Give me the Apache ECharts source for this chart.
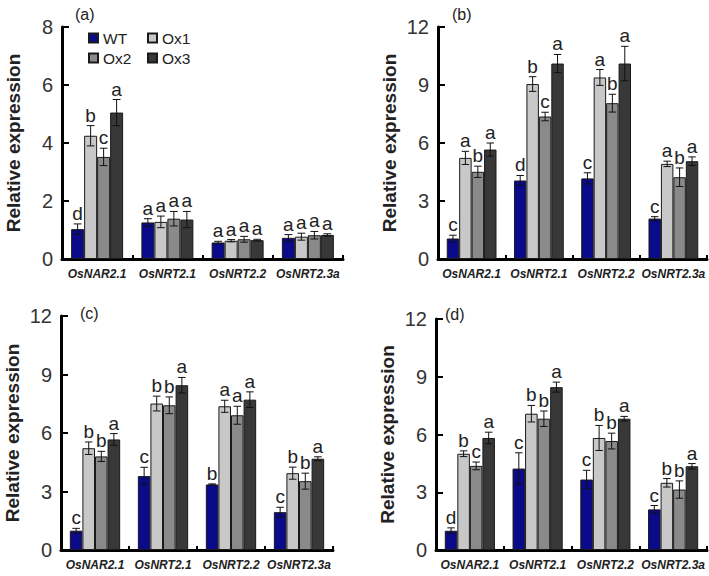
<!DOCTYPE html>
<html><head><meta charset="utf-8">
<script src="https://cdn.jsdelivr.net/npm/echarts@6/dist/echarts.min.js"></script>
<style>html,body{margin:0;padding:0;background:#fff}#c{width:709px;height:576px}</style>
</head><body><div id="c"></div>
<script>
const categories = ['OsNAR2.1', 'OsNRT2.1', 'OsNRT2.2', 'OsNRT2.3a'];
const seriesNames = ['WT', 'Ox1', 'Ox2', 'Ox3'];
const panelTags = ['(a)', '(b)', '(c)', '(d)'];
const yMax = [8, 12, 12, 12];
const yStep = [2, 3, 3, 3];

// means: rows = series (WT, Ox1, Ox2, Ox3), columns = categories
const meansA = [[1.03, 1.26, 0.57, 0.73], [4.25, 1.28, 0.63, 0.77], [3.52, 1.39, 0.68, 0.82], [5.05, 1.36, 0.65, 0.83]];
const errsA  = [[0.18, 0.13, 0.04, 0.11], [0.35, 0.2, 0.04, 0.12], [0.3, 0.25, 0.1, 0.13], [0.45, 0.28, 0.03, 0.04]];
const lettersA = [['d','a','a','a'], ['b','a','a','a'], ['c','a','a','a'], ['a','a','a','a']];

const meansB = [[1.06, 4.06, 4.17, 2.09], [5.23, 9.05, 9.39, 4.92], [4.51, 7.37, 8.06, 4.23], [5.66, 10.11, 10.11, 5.06]];
const errsB  = [[0.17, 0.26, 0.29, 0.1], [0.34, 0.38, 0.41, 0.14], [0.29, 0.22, 0.46, 0.48], [0.34, 0.47, 0.89, 0.22]];
const lettersB = [['c','d','c','c'], ['a','b','a','a'], ['b','c','b','b'], ['a','a','a','a']];

const meansC = [[0.99, 3.79, 3.36, 1.94], [5.22, 7.51, 7.37, 3.94], [4.8, 7.42, 6.91, 3.53], [5.67, 8.45, 7.71, 4.68]];
const errsC  = [[0.12, 0.45, 0.03, 0.25], [0.32, 0.38, 0.31, 0.31], [0.26, 0.43, 0.46, 0.41], [0.3, 0.4, 0.4, 0.1]];
const lettersC = [['c','c','b','c'], ['b','b','a','b'], ['b','b','a','b'], ['a','a','a','a']];

const meansD = [[1.0, 4.23, 3.66, 2.11], [5.0, 7.08, 5.82, 3.49], [4.37, 6.82, 5.66, 3.14], [5.82, 8.46, 6.82, 4.35]];
const errsD  = [[0.15, 0.82, 0.48, 0.2], [0.15, 0.43, 0.65, 0.22], [0.2, 0.4, 0.41, 0.45], [0.3, 0.26, 0.12, 0.14]];
const lettersD = [['d','c','c','c'], ['b','b','b','b'], ['c','b','b','b'], ['a','a','a','a']];

const panels = [
  {means: meansA, errs: errsA, letters: lettersA},
  {means: meansB, errs: errsB, letters: lettersB},
  {means: meansC, errs: errsC, letters: lettersC},
  {means: meansD, errs: errsD, letters: lettersD}
];

const FONT = "'Liberation Sans', Arial, sans-serif";
const colors = ['#0a0a8a', '#c8c8c8', '#8a8a8a', '#383838'];
const GAP = 0.26;
const grids = [
  {left: 62, top: 27, width: 281, height: 232},
  {left: 438, top: 27, width: 269, height: 232},
  {left: 61, top: 316, width: 272, height: 234},
  {left: 436, top: 319, width: 271, height: 231}
];
const tagPos = [{left: 75, top: 6}, {left: 452, top: 6}, {left: 80, top: 305}, {left: 445, top: 306}];

const option = {
  animation: false,
  backgroundColor: '#fff',
  title: panelTags.map((t, i) => ({text: t, left: tagPos[i].left, top: tagPos[i].top, padding: 0,
    textStyle: {fontFamily: FONT, fontSize: 16, fontWeight: 'normal', color: '#222'}})),
  legend: [
    {data: ['WT', 'Ox2'], left: 88, top: 30, orient: 'vertical'},
    {data: ['Ox1', 'Ox3'], left: 147, top: 30, orient: 'vertical'}
  ].map(l => Object.assign(l, {padding: 0, itemWidth: 9, itemHeight: 9, itemGap: 4, itemTextGap: 4, icon: 'rect',
    textStyle: {fontFamily: FONT, fontSize: 15.5, color: '#222', lineHeight: 15}})),
  grid: grids,
  xAxis: grids.map((g, i) => ({
    type: 'category', gridIndex: i, data: categories,
    axisLine: {lineStyle: {color: '#000', width: 3}},
    axisTick: {show: true, inside: true, length: 4, lineStyle: {color: '#000', width: 2}},
    axisLabel: {fontFamily: FONT, fontSize: 12, fontWeight: 'bold', fontStyle: 'italic', color: '#222', margin: 9, interval: 0}
  })),
  yAxis: grids.map((g, i) => ({
    type: 'value', gridIndex: i, min: 0, max: yMax[i], interval: yStep[i],
    name: 'Relative expression', nameLocation: 'middle', nameGap: 39,
    nameTextStyle: {fontFamily: FONT, fontSize: 19, fontWeight: 'bold', color: '#222'},
    axisLine: {show: true, lineStyle: {color: '#000', width: 3}},
    axisTick: {show: true, inside: true, length: 7, lineStyle: {color: '#000', width: 2}},
    splitLine: {show: false},
    axisLabel: {fontFamily: FONT, fontSize: 20, color: '#333', margin: 9}
  })),
  series: []
};

panels.forEach((p, pi) => {
  seriesNames.forEach((name, si) => {
    option.series.push({
      type: 'bar', name: name, xAxisIndex: pi, yAxisIndex: pi,
      data: p.means[si], barGap: '0%', barCategoryGap: (GAP * 100) + '%',
      itemStyle: {color: colors[si], borderColor: '#1a1a1a', borderWidth: 1}
    });
  });
  const flat = [], lab = [];
  seriesNames.forEach((name, si) => {
    categories.forEach((c, ci) => {
      flat.push([ci, si, p.means[si][ci], p.errs[si][ci]]);
      lab.push(p.letters[si][ci]);
    });
  });
  option.series.push({
    type: 'custom', xAxisIndex: pi, yAxisIndex: pi, z: 5, silent: true,
    encode: {x: 0, y: 2},
    data: flat,
    renderItem: function (params, api) {
      const cat = api.value(0), s = api.value(1), m = api.value(2), e = api.value(3);
      const band = api.size([1, 0])[0];
      const bw = band * (1 - GAP) / 4;
      const off = (s - 1.5) * bw;
      const hi = api.coord([cat, m + e]);
      const lo = api.coord([cat, Math.max(m - e, 0)]);
      const x = hi[0] + off;
      const cap = bw * 0.3;
      const st = {stroke: '#111', lineWidth: 1};
      return {type: 'group', children: [
        {type: 'line', shape: {x1: x, y1: hi[1], x2: x, y2: lo[1]}, style: st},
        {type: 'line', shape: {x1: x - cap, y1: hi[1], x2: x + cap, y2: hi[1]}, style: st},
        {type: 'line', shape: {x1: x - cap, y1: lo[1], x2: x + cap, y2: lo[1]}, style: st},
        {type: 'text', style: {text: lab[params.dataIndex], x: x, y: hi[1] - 1, align: 'center', verticalAlign: 'bottom',
          fontFamily: FONT, fontSize: 19, fill: '#222'}}
      ]};
    }
  });
});

const chart = echarts.init(document.getElementById('c'), null, {renderer: 'svg'});
chart.setOption(option);
</script></body></html>
